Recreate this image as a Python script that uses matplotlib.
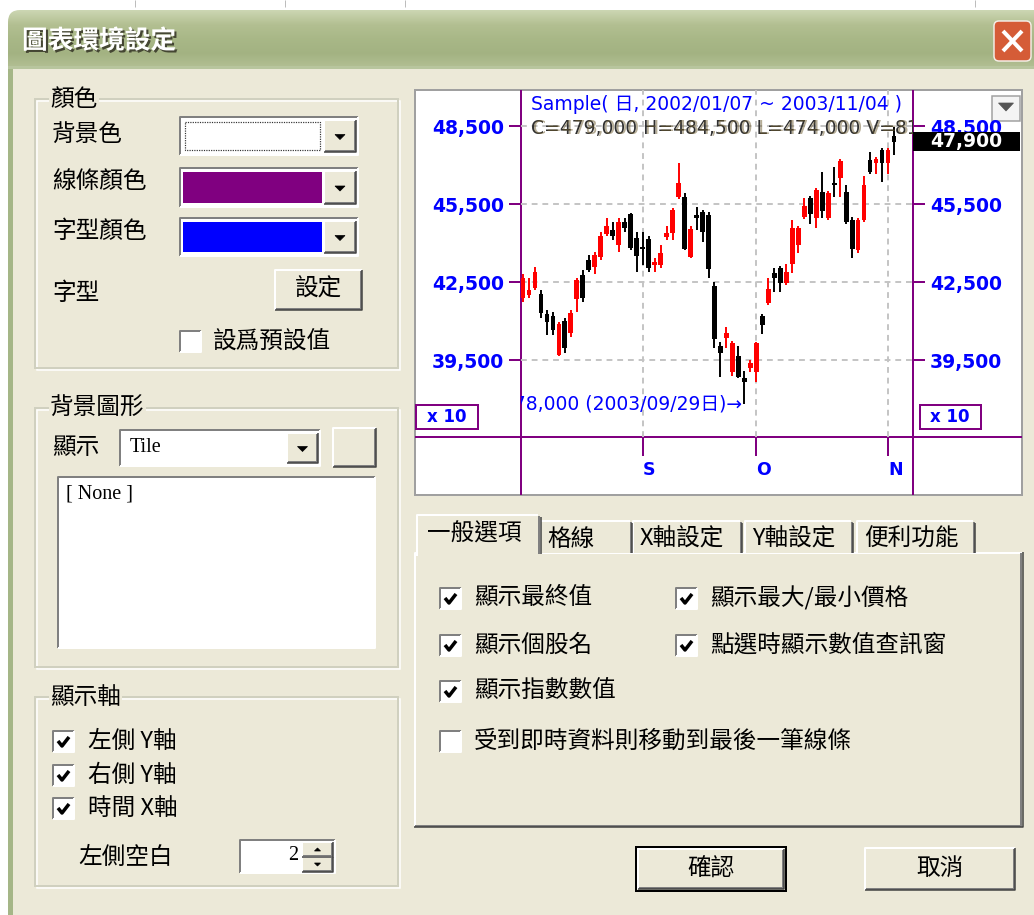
import numpy as np
import matplotlib
matplotlib.use("Agg")
import matplotlib.pyplot as plt
from matplotlib.patches import Rectangle, FancyBboxPatch, Polygon
import matplotlib.patheffects as pe
import matplotlib.transforms as mtransforms

plt.rcParams['font.family'] = ['Noto Sans CJK TC', 'DejaVu Sans']

# ---- candle data (display units, x10 in the app) ----
opens = [41890, 42000, 42270, 42040, 41270, 41190, 39690, 41000, 40540, 41850,
         42770, 43350, 43080, 43460, 44350, 44500, 43920, 44810, 45120, 44190,
         43850, 44150, 43150, 43150, 44230, 44390, 45770, 45770, 43460, 45080,
         45190, 45080, 42350, 40040, 40350, 39040, 39650, 38810, 39190, 39040,
         41190, 41690, 42850, 43040, 42460, 43190, 43920, 45000, 45730, 44960,
         45960, 44960, 46310, 46500, 45960, 44890, 43730, 44890, 47190, 47080,
         47580, 47080, 48100]
highs = [42810, 42650, 43080, 42190, 41420, 41350, 40960, 41120, 41420, 42650,
         42960, 43540, 43650, 44420, 44960, 44810, 44960, 44960, 45150, 44420,
         44420, 44270, 43420, 43920, 44650, 45350, 47080, 45920, 44650, 45390,
         45270, 45190, 42500, 40190, 40770, 40230, 40040, 39080, 39500, 40190,
         41270, 42650, 43040, 43120, 43190, 44890, 44650, 45730, 45810, 46120,
         46730, 46000, 46920, 47230, 46230, 45000, 44960, 46580, 47500, 47310,
         47650, 47650, 48450]
lows = [41730, 41890, 42190, 41120, 40460, 40460, 39650, 39770, 40390, 41350,
        41730, 42890, 42810, 43350, 44270, 44120, 43650, 44420, 43730, 42890,
        43150, 42890, 42890, 43040, 44120, 44120, 45690, 43730, 43420, 44500,
        44040, 42650, 39960, 38850, 39960, 38890, 38810, 37800, 39040, 38650,
        40500, 41620, 42120, 42120, 42390, 42850, 43620, 44920, 44730, 44580,
        44960, 44890, 45770, 45770, 44730, 43420, 43620, 44810, 46650, 46650,
        46350, 46650, 47400]
closes = [42650, 42190, 42890, 41310, 40960, 40650, 40890, 39960, 41310, 42580,
          41890, 42960, 43540, 44270, 44650, 44270, 44810, 44580, 43810, 43500,
          43770, 43040, 43270, 43620, 44390, 45270, 46310, 43770, 44540, 44960,
          44420, 43000, 40310, 39770, 40540, 40150, 38850, 38650, 39390, 40150,
          40850, 42230, 42650, 42460, 42890, 44580, 44580, 45420, 45120, 46040,
          45230, 45920, 46230, 47150, 44810, 43770, 44890, 46230, 46730, 47230,
          47080, 47580, 47900]

month_idx = [20, 39, 61]
month_labels = ["S", "O", "N"]
y_ticks = [39500, 42500, 45500, 48500]
last_close = 47900
min_idx = 37
min_label = "378,000 (2003/09/29日)→"
title_text = "Sample( 日, 2002/01/07 ~ 2003/11/04 )"
info_text = "C=479,000 H=484,500 L=474,000 V=81"

W, H = 1034, 915
BG = "#ECE9D8"
PURPLE = "#800080"
BLUE = "#0000FF"
PX = 0.72  # points per pixel at dpi 100
UI_FS = 17

fig = plt.figure(figsize=(W / 100, H / 100), dpi=100)
fig.patch.set_facecolor("white")
ui = fig.add_axes([0, 0, 1, 1], zorder=0)
ui.set_xlim(0, W)
ui.set_ylim(H, 0)
ui.axis("off")


def box(x0, y0, x1, y1, fc="none", ec="none", lw=1, z=1, **kw):
    ui.add_patch(Rectangle((x0, y0), x1 - x0, y1 - y0, facecolor=fc,
                           edgecolor=ec, linewidth=lw * PX, zorder=z, **kw))


def line(xs, ys, c, lw=1.5, z=2, **kw):
    ui.plot(xs, ys, color=c, linewidth=lw * PX, zorder=z,
            solid_capstyle="butt", **kw)


def sunken(x0, y0, x1, y1, fc="white", z=2):
    box(x0, y0, x1, y1, fc=fc, z=z)
    line([x0, x0, x1], [y1, y0, y0], "#808080", 2, z + 0.1)
    line([x0, x1, x1], [y1, y1, y0], "#FFFFFF", 2, z + 0.1)


def raised(x0, y0, x1, y1, fc=BG, z=3):
    box(x0, y0, x1, y1, fc=fc, z=z)
    line([x0, x0, x1], [y1, y0, y0], "#FFFFFF", 2, z + 0.1)
    line([x0 + 1, x1 - 1, x1 - 1], [y1 - 1, y1 - 1, y0 + 1], "#808080", 2, z + 0.1)
    line([x0, x1, x1], [y1, y1, y0], "#404040", 1.5, z + 0.2)


def tri(cx, cy, w=10, h=5, up=False, c="black", z=4):
    if up:
        pts = [(cx - w / 2, cy + h / 2), (cx + w / 2, cy + h / 2), (cx, cy - h / 2)]
    else:
        pts = [(cx - w / 2, cy - h / 2), (cx + w / 2, cy - h / 2), (cx, cy + h / 2)]
    ui.add_patch(Polygon(pts, closed=True, facecolor=c, edgecolor=c,
                         linewidth=0.5, zorder=z))


def txt(x, y, s, size=UI_FS, ha="left", **kw):
    ui.text(x, y, s, fontsize=size, ha=ha, va="center", zorder=6, **kw)


def groupbox(x0, y0, x1, y1, label):
    ui.add_patch(Rectangle((x0, y0), x1 - x0, y1 - y0, facecolor="none",
                           edgecolor="#D0D0BF", linewidth=2 * PX, zorder=2))
    ui.add_patch(Rectangle((x0 + 2, y0 + 2), x1 - x0, y1 - y0, facecolor="none",
                           edgecolor="#FFFFFF", linewidth=1.5 * PX, zorder=1.9))
    ui.text(x0 + 15, y0, label, fontsize=UI_FS, va="center", ha="left", zorder=6,
            bbox=dict(facecolor=BG, edgecolor="none", pad=1))


def checkbox(x, y, checked):
    sunken(x, y, x + 21, y + 21, fc="white", z=3)
    if checked:
        line([x + 5, x + 9, x + 16], [y + 10, y + 15, y + 6], "black", 3.5, 4)


def combo(x0, y0, x1, y1, color, focus=False):
    sunken(x0, y0, x1, y1, fc="white", z=2)
    box(x0 + 3, y0 + 4, x1 - 36, y1 - 4, fc=color, z=3)
    if focus:
        ui.add_patch(Rectangle((x0 + 5, y0 + 5), x1 - x0 - 43, y1 - y0 - 10,
                               facecolor="none", edgecolor="#333333",
                               linewidth=1.2 * PX, linestyle=(0, (1, 1)), zorder=4))
    raised(x1 - 34, y0 + 3, x1 - 2, y1 - 3)
    tri((x1 - 34 + x1 - 2) / 2, (y0 + y1) / 2 + 1)


# ---- window chrome ----
box(8, 60, W, H, fc=BG, z=0.5)
grad_cols = np.array([[0.80, 0.84, 0.70], [0.70, 0.75, 0.57], [0.66, 0.72, 0.53],
                      [0.64, 0.70, 0.51], [0.70, 0.75, 0.58]])
grad = np.linspace(0, 4, 60)
img = np.array([[grad_cols[int(g)] * (1 - g % 1) + grad_cols[min(int(g) + 1, 4)] * (g % 1)]
                for g in grad])
im = ui.imshow(img, extent=(8, W, 68, 10), aspect="auto", zorder=0.8,
               interpolation="bilinear")
clip = FancyBboxPatch((8, 10), W + 30, 120, boxstyle="round,pad=0,rounding_size=12",
                      transform=ui.transData, facecolor="none", edgecolor="none")
ui.add_patch(clip)
im.set_clip_path(clip)
box(8, 66, 13, H, fc="#A5B687", z=0.9)
box(8, 66, W, 69, fc="#B8C59E", z=0.9)
for tx in [135, 285, 405, 975]:
    line([tx, tx], [0, 7], "#BDBDBD", 1, 0.6)

ui.text(22, 41, "圖表環境設定", fontsize=18.5, fontweight="bold", color="white",
        va="center", ha="left", zorder=6,
        path_effects=[pe.withSimplePatchShadow(offset=(1.5, -1.5),
                                               shadow_rgbFace="#3A3A2A", alpha=0.9)])
ui.add_patch(FancyBboxPatch((994, 21), 37, 40, boxstyle="round,pad=0,rounding_size=5",
                            facecolor="#D55C37", edgecolor="#F4EDE6",
                            linewidth=1.5 * PX, zorder=3))
line([1003, 1022], [31, 51], "white", 4, 4)
line([1022, 1003], [31, 51], "white", 4, 4)

# ---- 顏色 group ----
groupbox(35, 99, 398, 368, "顏色")
txt(52, 135, "背景色")
txt(52, 182, "線條顏色")
txt(52, 231, "字型顏色")
txt(52, 294, "字型")
combo(180, 117, 358, 155, "white", focus=True)
combo(180, 168, 358, 207, PURPLE)
combo(180, 218, 358, 256, BLUE)
raised(275, 270, 362, 310)
txt(318, 289, "設定", ha="center")
checkbox(180, 331, False)
txt(213, 342, "設爲預設值")

# ---- 背景圖形 group ----
groupbox(35, 408, 398, 667, "背景圖形")
txt(52, 447, "顯示")
sunken(120, 430, 320, 466, fc="white")
txt(130, 448, "Tile", size=14.5, family="Liberation Serif")
raised(287, 433, 318, 463)
tri(302.5, 449)
raised(333, 428, 376, 467)
sunken(58, 477, 375, 648, fc="white")
txt(66, 494, "[ None ]", size=14.5, family="Liberation Serif")

# ---- 顯示軸 group ----
groupbox(35, 697, 398, 886, "顯示軸")
for cy, s in zip([741, 775, 808], ["左側 Y軸", "右側 Y軸", "時間 X軸"]):
    checkbox(53, cy - 10, True)
    txt(88, cy, s)
txt(78, 857, "左側空白")
sunken(240, 840, 335, 873, fc="white")
txt(298, 855, "2", size=14.5, ha="right", family="Liberation Serif")
raised(302, 842, 333, 857)
tri(317.5, 849.5, 6, 3, up=True)
raised(302, 857, 333, 872)
tri(317.5, 864.5, 6, 3)

# ---- tabs ----
box(415, 553, 1022, 826, fc=BG, z=2)
line([415, 415, 1022], [826, 553, 553], "#FFFFFF", 2, 2.1)
line([415, 1021, 1021], [826, 826, 553], "#808080", 2, 2.1)
line([414, 1023, 1023], [827, 827, 552], "#404040", 1.5, 2.2)
tabs = [(540, 632, "格線"), (633, 742, "X軸設定"), (745, 853, "Y軸設定"), (857, 975, "便利功能")]
for x0, x1, s in tabs:
    box(x0, 521, x1, 553, fc=BG, z=2.5)
    line([x0, x0, x1 - 2], [553, 521, 521], "#FFFFFF", 2, 2.6)
    line([x1 - 1, x1 - 1], [522, 553], "#808080", 2, 2.6)
    line([x1, x1], [523, 553], "#404040", 1.5, 2.7)
    txt(x0 + 7, 539, s)
box(417, 515, 540, 556, fc=BG, z=2.8)
line([417, 417, 538], [556, 515, 515], "#FFFFFF", 2, 2.9)
line([539, 539], [516, 554], "#808080", 2, 2.9)
line([540.5, 540.5], [517, 554], "#404040", 1.5, 2.9)
txt(427, 534, "一般選項")

tab_checks = [(440, 598, "顯示最終值", True), (676, 598, "顯示最大/最小價格", True),
              (440, 645, "顯示個股名", True), (676, 645, "點選時顯示數值查訊窗", True),
              (440, 691, "顯示指數數值", True), (440, 741, "受到即時資料則移動到最後一筆線條", False)]
for cx, cy, s, on in tab_checks:
    checkbox(cx, cy - 10, on)
    txt(cx + 34, cy, s)

# ---- buttons ----
box(636, 847, 786, 891, fc="none", ec="black", lw=2, z=4)
raised(638, 849, 784, 889)
txt(711, 869, "確認", ha="center")
raised(865, 848, 1015, 890)
txt(940, 869, "取消", ha="center")

# ---- chart panel ----
box(415, 90, 1022, 495, fc="white", ec="#A0A0A0", lw=2, z=1)
line([521, 521], [90, 495], PURPLE, 2, 3)
line([913, 913], [90, 495], PURPLE, 2, 3)
line([415, 1022], [437, 437], PURPLE, 2, 3)
for x0, x1, tx in [(416, 478, 447), (920, 981, 950)]:
    box(x0, 405, x1, 429, fc="white", ec=PURPLE, lw=2, z=3)
    ui.text(tx, 417, "x 10", fontsize=12, fontweight="bold", color=BLUE,
            ha="center", va="center", family="DejaVu Sans", zorder=6)
box(992, 96, 1020, 121, fc="#F4F4F4", ec="#A0A0A0", lw=1.5, z=3)
tri(1006, 107, 15, 8, c="#555555")

# plot area: x 521..913 px, y 90..437 px
px_price = 3000 / 78.0
y_bottom = 39500 - (437 - 360) * px_price
y_top = 48500 + (126 - 90) * px_price
step = (894 - 523) / 62.0
ax = fig.add_axes([521 / W, 1 - 437 / H, 392 / W, 347 / H], zorder=1)
ax.set_facecolor("none")
ax.set_xlim((521 - 523) / step, (913 - 523) / step)
ax.set_ylim(y_bottom, y_top)
for sp in ax.spines.values():
    sp.set_visible(False)

idx = np.arange(len(opens))
o = np.array(opens)
c = np.array(closes)
cols = np.where(c >= o, "#FF0000", "#000000")
ax.vlines(idx, lows, highs, colors=cols, linewidth=1.4, zorder=3)
body_h = np.maximum(np.abs(c - o), 75)
ax.bar(idx, body_h, bottom=np.minimum(o, c), width=0.8, color=cols,
       linewidth=0, zorder=4)

ax.set_axisbelow(True)
ax.grid(True, color="#C4C4C4", linestyle=(0, (3, 2.5)), linewidth=1.4)
ax.set_yticks(y_ticks)
ax.set_yticklabels([f"{v:,}" for v in y_ticks], fontweight="bold",
                   family="DejaVu Sans")
ax.tick_params(axis="y", direction="out", length=8.6, width=2 * PX, color=PURPLE,
               labelcolor=BLUE, labelsize=13.5, pad=3.6, left=True, right=True,
               labelleft=True, labelright=True)
ax.set_xticks(month_idx)
ax.set_xticklabels(month_labels, fontweight="bold", ha="left", family="DejaVu Sans")
ax.tick_params(axis="x", direction="out", length=13.7, width=2 * PX, color=PURPLE,
               labelcolor=BLUE, labelsize=12.5, pad=3.6)

fam = ["DejaVu Sans", "Noto Sans CJK TC"]
ax.text((531 - 521) / 392, (437 - 105) / 347, title_text, transform=ax.transAxes,
        fontsize=13.5, color=BLUE, family=fam, ha="left", va="center", clip_on=True)
ax.text((531 - 521) / 392, (437 - 129) / 347, info_text, transform=ax.transAxes,
        fontsize=13.5, color="#303030", family=fam, ha="left", va="center", clip_on=True)
ax.text((533 - 521) / 392, (437 - 128) / 347, info_text.replace("479", "478"),
        transform=ax.transAxes, fontsize=13.5, color="#6E5C2E", alpha=0.5,
        family=fam, ha="left", va="center", clip_on=True)
ax.text(min_idx - 0.35, lows[min_idx], min_label, fontsize=13.5, color=BLUE,
        family=fam, ha="right", va="center", clip_on=True, zorder=5)

# last-close marker on the right axis
blend = mtransforms.blended_transform_factory(ax.transAxes, ax.transData)
ax.add_patch(Rectangle((1.0, last_close - 9.5 * px_price), (1020 - 913) / 392,
                       19 * px_price, transform=blend, facecolor="black",
                       edgecolor="none", clip_on=False, zorder=8))
ax.text((930 - 521) / 392, last_close, f"{last_close:,}", transform=blend,
        fontsize=13.5, fontweight="bold", color="white", family="DejaVu Sans",
        ha="left", va="center", clip_on=False, zorder=9)

fig.savefig("out.png", dpi=100, facecolor=fig.get_facecolor())
